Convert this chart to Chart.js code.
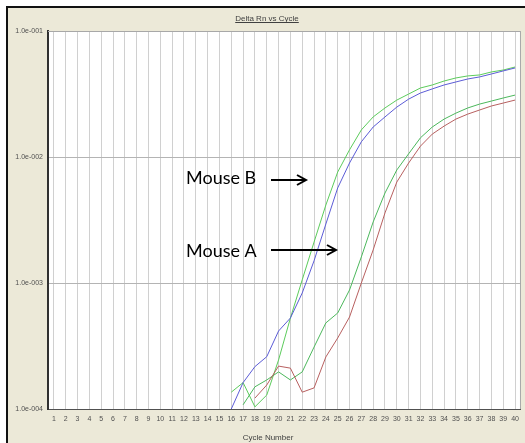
<!DOCTYPE html>
<html>
<head>
<meta charset="utf-8">
<script src="https://cdn.jsdelivr.net/npm/chart.js@4"></script>
<style>
  html, body { margin: 0; padding: 0; background: #fff; }
  canvas { display: block; }
</style>
</head>
<body>
<canvas id="deltaRnChart" width="525" height="443"></canvas>
<script>
// Amplification plot, Delta Rn vs Cycle (log scale)
const cycles = ['1', '2', '3', '4', '5', '6', '7', '8', '9', '10',
    '11', '12', '13', '14', '15', '16', '17', '18', '19', '20',
    '21', '22', '23', '24', '25', '26', '27', '28', '29', '30',
    '31', '32', '33', '34', '35', '36', '37', '38', '39', '40'];

const yTicks = [1e-4, 1e-3, 1e-2, 1e-1];
const yTickLabels = ['1.0e-004', '1.0e-003', '1.0e-002', '1.0e-001'];

// Mouse B wells, from cycle 16
const mouseBStart = 16;
const mouseBBlue = [1.00e-4, 1.62e-4, 2.17e-4, 2.60e-4, 4.16e-4, 5.27e-4, 8.33e-4, 1.50e-3, 2.94e-3,
    5.68e-3, 8.96e-3, 1.32e-2, 1.73e-2, 2.08e-2, 2.49e-2, 2.88e-2, 3.22e-2, 3.47e-2, 3.73e-2,
    3.94e-2, 4.16e-2, 4.32e-2, 4.56e-2, 4.82e-2, 5.09e-2];
const mouseBGreen = [1.36e-4, 1.62e-4, 1.04e-4, 1.29e-4, 2.45e-4, 5.27e-4, 1.06e-3, 2.11e-3, 4.16e-3,
    7.60e-3, 1.14e-2, 1.64e-2, 2.08e-2, 2.45e-2, 2.83e-2, 3.16e-2, 3.53e-2, 3.73e-2, 4.01e-2,
    4.24e-2, 4.40e-2, 4.48e-2, 4.73e-2, 4.90e-2, 5.18e-2];

// Mouse A wells
const mouseAGreenStart = 17;
const mouseAGreen = [1.08e-4, 1.50e-4, 1.70e-4, 1.97e-4, 1.70e-4, 1.97e-4, 3.10e-4, 4.82e-4, 5.78e-4,
    8.80e-4, 1.61e-3, 3.05e-3, 5.18e-3, 7.89e-3, 1.06e-2, 1.42e-2, 1.73e-2, 2.00e-2, 2.23e-2,
    2.45e-2, 2.63e-2, 2.78e-2, 2.94e-2, 3.10e-2];
const mouseARedStart = 18;
const mouseARed = [1.22e-4, 1.55e-4, 2.19e-4, 2.11e-4, 1.36e-4, 1.47e-4, 2.59e-4, 3.66e-4, 5.37e-4,
    1.00e-3, 1.83e-3, 3.60e-3, 6.33e-3, 8.96e-3, 1.22e-2, 1.52e-2, 1.76e-2, 2.00e-2, 2.19e-2,
    2.36e-2, 2.54e-2, 2.68e-2, 2.83e-2];

// leading cycles without a reading are left empty
function fromCycle(start, values) {
    return new Array(start - 1).fill(null).concat(values);
}

function line(values, color) {
    return {
        data: values,
        borderColor: color,
        borderWidth: 1,
        pointRadius: 0,
        tension: 0,
        fill: false
    };
}

function drawArrow(ctx, x1, y, x2) {
    ctx.beginPath();
    ctx.moveTo(x1, y);
    ctx.lineTo(x2, y);
    ctx.moveTo(x2 - 9, y - 5);
    ctx.lineTo(x2, y);
    ctx.lineTo(x2 - 9, y + 5);
    ctx.stroke();
}

const framePlugin = {
    id: 'frame',
    beforeDraw(chart) {
        const ctx = chart.ctx;
        const a = chart.chartArea;
        ctx.save();
        ctx.fillStyle = '#ffffff';
        ctx.fillRect(0, 0, chart.width, chart.height);
        ctx.fillStyle = '#ece9d8';
        ctx.fillRect(7, 7, chart.width - 7, chart.height - 7);
        ctx.fillStyle = '#111111';
        ctx.fillRect(7, 6, chart.width - 7, 2);
        ctx.fillRect(6, 6, 2, chart.height - 6);
        ctx.fillStyle = '#ffffff';
        ctx.fillRect(a.left, a.top, a.right - a.left, a.bottom - a.top);
        ctx.restore();
    },
    afterDraw(chart) {
        const ctx = chart.ctx;
        const a = chart.chartArea;
        ctx.save();
        // plot outline on the top and right
        ctx.strokeStyle = '#a8a8a8';
        ctx.lineWidth = 1;
        ctx.beginPath();
        ctx.moveTo(a.left, a.top + 0.5);
        ctx.lineTo(a.right - 0.5, a.top + 0.5);
        ctx.lineTo(a.right - 0.5, a.bottom);
        ctx.stroke();

        // chart title, underlined
        ctx.fillStyle = '#404040';
        ctx.font = '8px "Liberation Sans", Arial, sans-serif';
        ctx.textAlign = 'center';
        ctx.textBaseline = 'middle';
        const title = 'Delta Rn vs Cycle';
        ctx.fillText(title, 267, 19);
        const w = ctx.measureText(title).width;
        ctx.fillRect(267 - w / 2, 22, w, 1);

        ctx.fillText('Cycle Number', 268, 438);

        // callouts
        ctx.fillStyle = '#000000';
        ctx.font = '18px Lato, "Open Sans", sans-serif';
        ctx.textAlign = 'left';
        ctx.fillText('Mouse B', 186, 178);
        ctx.fillText('Mouse A', 186, 251);
        ctx.strokeStyle = '#000000';
        ctx.lineWidth = 2;
        drawArrow(ctx, 271, 180, 306);
        drawArrow(ctx, 271, 250, 336);
        ctx.restore();
    }
};

new Chart(document.getElementById('deltaRnChart'), {
    type: 'line',
    data: {
        labels: cycles,
        datasets: [
            line(fromCycle(mouseARedStart, mouseARed), '#b86060'),
            line(fromCycle(mouseAGreenStart, mouseAGreen), '#4cb85c'),
            line(fromCycle(mouseBStart, mouseBBlue), '#5c5cd6'),
            line(fromCycle(mouseBStart, mouseBGreen), '#5ccc5c')
        ]
    },
    options: {
        responsive: false,
        devicePixelRatio: 1,
        animation: false,
        layout: {
            padding: { left: 0, top: 31, right: 4, bottom: 0 }
        },
        scales: {
            x: {
                type: 'category',
                offset: true,
                afterFit: function(scale) { scale.height = 34; },
                grid: {
                    offset: false,
                    color: '#d0d0d0',
                    lineWidth: 1,
                    drawTicks: false
                },
                border: { display: true, color: '#505050', width: 1 },
                ticks: {
                    autoSkip: false,
                    maxRotation: 0,
                    padding: 6,
                    color: '#505050',
                    font: { family: '"Liberation Sans", Arial, sans-serif', size: 7 }
                }
            },
            y: {
                type: 'logarithmic',
                min: 1e-4,
                max: 1e-1,
                afterFit: function(scale) { scale.width = 48; },
                afterBuildTicks: function(scale) {
                    scale.ticks = yTicks.map(function(v) { return { value: v }; });
                },
                grid: {
                    color: '#b4b4b4',
                    lineWidth: 1,
                    drawTicks: false
                },
                border: { display: true, color: '#303030', width: 2 },
                ticks: {
                    padding: 5,
                    color: '#505050',
                    font: { family: '"Liberation Sans", Arial, sans-serif', size: 7 },
                    callback: function(value) {
                        const i = yTicks.indexOf(value);
                        return i >= 0 ? yTickLabels[i] : '';
                    }
                }
            }
        },
        plugins: {
            legend: { display: false },
            tooltip: { enabled: false }
        }
    },
    plugins: [framePlugin]
});
</script>
</body>
</html>
